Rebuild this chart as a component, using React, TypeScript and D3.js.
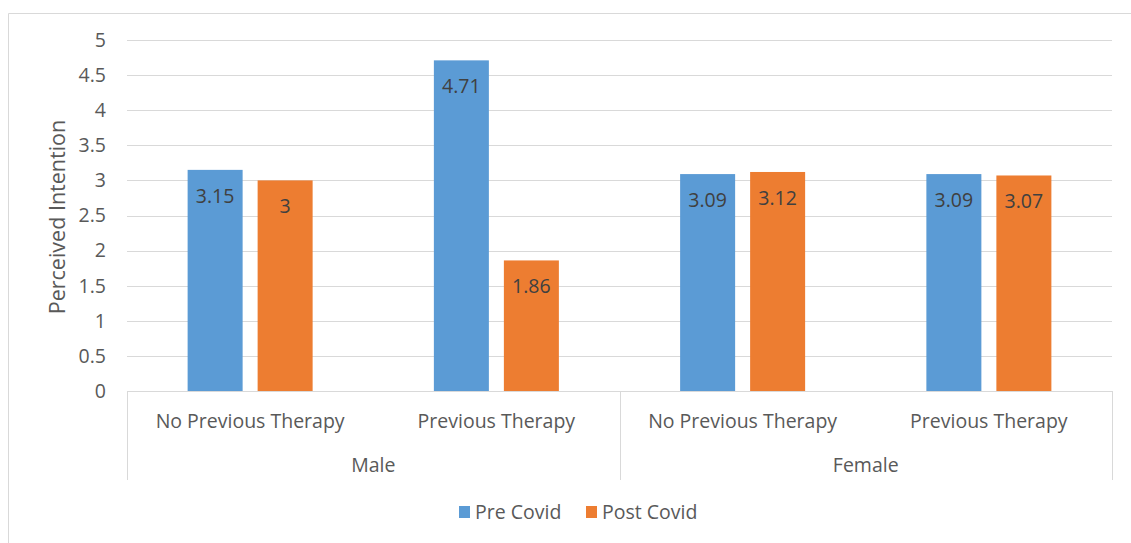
import React from "react";
import * as d3 from "d3";

const groups = ["Male", "Female"];
const subCategories = ["No Previous Therapy", "Previous Therapy"];
const seriesNames = ["Pre Covid", "Post Covid"];
const preCovid = [3.15, 4.71, 3.09, 3.09];
const postCovid = [3.0, 1.86, 3.12, 3.07];
const yTicks = [0, 0.5, 1, 1.5, 2, 2.5, 3, 3.5, 4, 4.5, 5];
const colors = ["#5B9BD5", "#ED7D31"];

const W = 1131;
const H = 543;
const left = 127;
const right = 1112;
const top = 40;
const bottom = 391;
const font = "'Open Sans', sans-serif";
const fs = 19.5;
const textColor = "#595959";

export default function App() {
  const cats = groups.flatMap((g) => subCategories.map((s) => `${g}|${s}`));
  const x = d3.scaleBand<string>().domain(cats).range([left, right]).padding(0);
  const y = d3.scaleLinear().domain([0, 5]).range([bottom, top]);
  const inner = d3
    .scaleBand<number>()
    .domain([0, 1])
    .range([0, x.bandwidth()])
    .paddingInner(0.2143)
    .paddingOuter(0.866);
  const series = [preCovid, postCovid];
  const groupScale = d3.scaleBand<string>().domain(groups).range([left, right]);

  return (
    <svg width={W} height={H} style={{ position: "absolute", left: 0, top: 0, background: "#fff" }}>
      <rect x={0} y={0} width={W} height={H} fill="#fff" />
      {/* chart frame */}
      <line x1={8.5} y1={13.5} x2={1131} y2={13.5} stroke="#D9D9D9" />
      <line x1={8.5} y1={13.5} x2={8.5} y2={543} stroke="#D9D9D9" />
      {/* gridlines */}
      {yTicks.map((t) => (
        <line key={t} x1={left} x2={right} y1={Math.round(y(t)) + 0.5} y2={Math.round(y(t)) + 0.5} stroke="#D9D9D9" strokeWidth={1} />
      ))}
      {/* y tick labels */}
      {yTicks.map((t) => (
        <text key={"l" + t} x={106} y={y(t)} dy="0.35em" textAnchor="end" fontFamily={font} fontSize={fs} fill={textColor}>
          {String(t)}
        </text>
      ))}
      {/* y axis title */}
      <text
        transform={`translate(57,${217}) rotate(-90)`}
        textAnchor="middle"
        dy="0.35em"
        fontFamily={font}
        fontSize={21.5}
        fill={textColor}
      >
        Perceived Intention
      </text>
      {/* bars */}
      {cats.map((c, i) =>
        series.map((s, j) => {
          const bx = (x(c) as number) + (inner(j) as number);
          const by = y(s[i]);
          return (
            <g key={c + j}>
              <rect x={bx} y={by} width={inner.bandwidth()} height={bottom - by} fill={colors[j]} />
              <text
                x={bx + inner.bandwidth() / 2}
                y={by + 26}
                dy="0.35em"
                textAnchor="middle"
                fontFamily={font}
                fontSize={fs}
                fill="#404040"
              >
                {String(s[i])}
              </text>
            </g>
          );
        })
      )}
      {/* category axis */}
      <line x1={left} x2={right} y1={bottom + 0.5} y2={bottom + 0.5} stroke="#D9D9D9" />
      {[left, (left + right) / 2, right].map((xx, k) => (
        <line key={"d" + k} x1={Math.round(xx) + 0.5} x2={Math.round(xx) + 0.5} y1={bottom} y2={480} stroke="#D9D9D9" />
      ))}
      {cats.map((c) => (
        <text
          key={"c" + c}
          x={(x(c) as number) + x.bandwidth() / 2}
          y={421}
          dy="0.35em"
          textAnchor="middle"
          fontFamily={font}
          fontSize={fs}
          fill={textColor}
        >
          {c.split("|")[1]}
        </text>
      ))}
      {groups.map((g) => (
        <text
          key={"g" + g}
          x={(groupScale(g) as number) + groupScale.bandwidth() / 2}
          y={465}
          dy="0.35em"
          textAnchor="middle"
          fontFamily={font}
          fontSize={fs}
          fill={textColor}
        >
          {g}
        </text>
      ))}
      {/* legend */}
      {seriesNames.map((n, j) => {
        const lx = [459, 586][j];
        return (
          <g key={"lg" + n}>
            <rect x={lx} y={506} width={11} height={12} fill={colors[j]} />
            <text x={lx + 16} y={512} dy="0.35em" fontFamily={font} fontSize={fs} fill={textColor}>
              {n}
            </text>
          </g>
        );
      })}
    </svg>
  );
}
